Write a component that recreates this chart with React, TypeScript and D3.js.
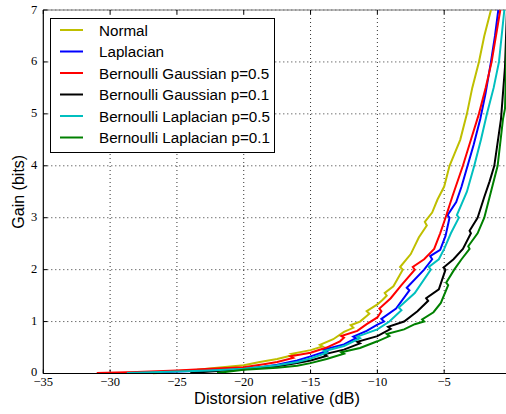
import React from "react";
import * as d3 from "d3";

const xTicks = [-35, -30, -25, -20, -15, -10, -5];
const yTicks = [0, 1, 2, 3, 4, 5, 6, 7];

const seriesNames = [
  "Normal",
  "Laplacian",
  "Bernoulli Gaussian p=0.5",
  "Bernoulli Gaussian p=0.1",
  "Bernoulli Laplacian p=0.5",
  "Bernoulli Laplacian p=0.1",
];
const seriesColors = ["#bfbf00", "#0000ff", "#ff0000", "#000000", "#00bfbf", "#008000"];

const normalDb = [-26.8, -25.0, -23.5, -22.0, -20.0, -18.8, -17.5, -16.2, -16.4, -15.0, -14.1, -14.3, -13.3, -12.5, -11.8, -12.0, -11.3, -10.6, -10.8, -10.0, -9.6, -9.3, -9.45, -8.8, -8.1, -8.3, -7.5, -6.9, -6.3, -6.45, -5.9, -5.5, -5.0, -4.6, -4.2, -3.8, -3.3, -2.9, -2.4, -2.0, -1.5];
const normalGain = [0.0, 0.05, 0.07, 0.11, 0.16, 0.22, 0.28, 0.36, 0.38, 0.45, 0.52, 0.55, 0.66, 0.8, 0.88, 0.93, 1.0, 1.15, 1.2, 1.33, 1.42, 1.5, 1.55, 1.68, 2.0, 2.05, 2.3, 2.62, 2.85, 2.92, 3.1, 3.35, 3.6, 4.0, 4.25, 4.5, 5.0, 5.5, 6.0, 6.5, 7.0];

const laplaceDb = [-28.0, -25.0, -22.5, -20.0, -18.5, -17.5, -16.0, -15.0, -13.8, -14.0, -12.5, -11.6, -11.8, -10.8, -10.0, -9.5, -9.7, -8.6, -7.6, -7.8, -6.5, -5.9, -6.05, -5.3, -4.9, -4.6, -4.75, -4.1, -3.7, -3.25, -2.8, -2.3, -1.9, -1.5, -1.2, -0.95];
const laplaceGain = [0.01, 0.04, 0.06, 0.09, 0.13, 0.17, 0.25, 0.33, 0.43, 0.46, 0.56, 0.68, 0.71, 0.82, 0.94, 1.0, 1.05, 1.25, 1.6, 1.65, 2.0, 2.2, 2.26, 2.38, 2.65, 3.0, 3.05, 3.3, 3.6, 4.0, 4.4, 4.9, 5.4, 6.0, 6.5, 7.0];

const bg05Db = [-31.0, -28.0, -25.0, -22.5, -20.0, -18.5, -17.5, -16.3, -16.5, -15.0, -13.8, -12.8, -12.5, -12.7, -11.5, -10.8, -10.0, -9.7, -9.85, -9.0, -8.2, -7.2, -7.35, -6.5, -5.75, -5.3, -4.9, -4.4, -3.6, -3.0, -2.4, -1.9, -1.45, -0.8];
const bg05Gain = [0.01, 0.03, 0.06, 0.09, 0.12, 0.18, 0.22, 0.3, 0.33, 0.4, 0.5, 0.62, 0.69, 0.72, 0.82, 0.95, 1.08, 1.2, 1.25, 1.45, 1.7, 2.0, 2.05, 2.2, 2.4, 2.7, 3.0, 3.4, 4.0, 4.5, 5.0, 5.5, 6.0, 7.0];

const bg01Db = [-24.0, -22.5, -20.0, -17.5, -16.0, -15.0, -13.8, -14.0, -12.5, -11.3, -11.5, -10.0, -9.0, -9.2, -8.0, -7.0, -6.2, -6.35, -5.4, -4.9, -5.05, -4.3, -3.6, -3.0, -3.1, -2.5, -2.0, -1.6, -1.25, -0.75, -0.45, -0.3];
const bg01Gain = [0.01, 0.04, 0.08, 0.14, 0.2, 0.25, 0.34, 0.37, 0.46, 0.58, 0.61, 0.72, 0.86, 0.9, 1.0, 1.2, 1.4, 1.45, 1.62, 2.0, 2.04, 2.2, 2.4, 2.7, 2.75, 3.0, 3.4, 3.7, 4.0, 4.9, 5.9, 7.0];

const bl05Db = [-28.75, -25.0, -22.5, -20.0, -17.5, -16.0, -15.0, -13.8, -14.0, -12.5, -11.3, -11.5, -10.0, -9.1, -8.2, -8.4, -7.2, -6.0, -6.15, -5.4, -5.0, -4.5, -3.9, -4.05, -3.3, -2.75, -2.25, -1.8, -1.3, -0.9, -0.5];
const bl05Gain = [0.01, 0.04, 0.06, 0.09, 0.16, 0.22, 0.29, 0.4, 0.43, 0.53, 0.68, 0.71, 0.85, 1.0, 1.22, 1.27, 1.55, 2.0, 2.05, 2.2, 2.4, 2.7, 3.0, 3.05, 3.5, 4.0, 4.5, 5.0, 5.5, 6.0, 7.0];

const bl01Db = [-22.0, -20.0, -17.5, -16.0, -15.0, -13.8, -12.5, -12.7, -11.3, -10.0, -9.1, -9.3, -8.0, -7.2, -6.5, -6.65, -5.8, -5.25, -4.7, -4.85, -4.25, -3.7, -3.1, -3.2, -2.5, -2.0, -1.5, -1.0, -0.6, -0.45, -0.25];
const bl01Gain = [0.01, 0.07, 0.11, 0.15, 0.2, 0.28, 0.38, 0.41, 0.49, 0.62, 0.72, 0.76, 0.85, 0.95, 1.0, 1.04, 1.18, 1.36, 1.7, 1.75, 2.0, 2.2, 2.4, 2.45, 2.7, 3.0, 3.5, 4.0, 4.9, 5.1, 7.0];

const seriesDb = [normalDb, laplaceDb, bg05Db, bg01Db, bl05Db, bl01Db];
const seriesGain = [normalGain, laplaceGain, bg05Gain, bg01Gain, bl05Gain, bl01Gain];

const W = 506;
const H = 414;
const left = 43.3;
const right = 511;
const top = 10;
const bottom = 373.5;

export default function App() {
  const x = d3.scaleLinear().domain([-35, 0]).range([left, right]);
  const y = d3.scaleLinear().domain([0, 7]).range([bottom, top]);
  const line = d3
    .line<[number, number]>()
    .x((d) => x(d[0]))
    .y((d) => y(d[1]));

  const tickFont = "'Liberation Serif', 'DejaVu Serif', serif";
  const sansFont = "'Liberation Sans', Arial, sans-serif";

  return (
    <svg width={W} height={H} style={{ position: "absolute", left: 0, top: 0, background: "#fff" }}>
      <defs>
        <clipPath id="plotclip">
          <rect x={left} y={top - 1} width={right - left} height={bottom - top + 2} />
        </clipPath>
      </defs>
      <rect x={0} y={0} width={W} height={H} fill="#fff" />
      {xTicks.slice(1).map((t) => (
        <line key={"gx" + t} x1={x(t)} x2={x(t)} y1={top} y2={bottom} stroke="#000" strokeWidth={1} strokeDasharray="1,3" opacity={0.8} />
      ))}
      {yTicks.slice(1).map((t) => (
        <line key={"gy" + t} x1={left} x2={right} y1={y(t)} y2={y(t)} stroke="#000" strokeWidth={1} strokeDasharray="1,3" opacity={0.8} />
      ))}
      <line x1={left} x2={right} y1={top} y2={top} stroke="#777" strokeWidth={1} />
      {xTicks.map((t) => (
        <g key={"tx" + t}>
          <line x1={x(t)} x2={x(t)} y1={bottom} y2={bottom - 4} stroke="#000" />
          <line x1={x(t)} x2={x(t)} y1={top} y2={top + 4} stroke="#000" />
          <text x={x(t)} y={bottom + 12.5} textAnchor="middle" fontFamily={tickFont} fontSize={12.5} fill="#000">
            {"\u2212" + Math.abs(t)}
          </text>
        </g>
      ))}
      {yTicks.map((t) => (
        <g key={"ty" + t}>
          <line x1={left} x2={left + 4} y1={y(t)} y2={y(t)} stroke="#000" />
          <text x={left - 6} y={y(t) + (t === 0 ? 2.5 : 3.5)} textAnchor="end" fontFamily={tickFont} fontSize={12.5} fill="#000">
            {t}
          </text>
        </g>
      ))}
      <g clipPath="url(#plotclip)">
        {seriesDb.map((dbs, i) => {
          const pts: [number, number][] = dbs.map((d, j) => [d, seriesGain[i][j]]);
          return (
            <path key={"s" + i} d={line(pts) || ""} fill="none" stroke={seriesColors[i]} strokeWidth={2} strokeLinejoin="miter" />
          );
        })}
      </g>
      <line x1={left} x2={left} y1={top} y2={bottom} stroke="#000" strokeWidth={1.2} />
      <line x1={left} x2={right} y1={bottom} y2={bottom} stroke="#000" strokeWidth={1.2} />
      <rect x={50.5} y={18.5} width={224} height={134} fill="#fff" stroke="#000" strokeWidth={1} />
      {seriesNames.map((n, i) => {
        const yy = 30 + i * 21.5;
        return (
          <g key={"lg" + i}>
            <line x1={60} x2={83} y1={yy} y2={yy} stroke={seriesColors[i]} strokeWidth={2} />
            <text x={99} y={yy + 5.5} fontFamily={sansFont} fontSize={15.2} fill="#000">
              {n}
            </text>
          </g>
        );
      })}
      <text x={277} y={404} textAnchor="middle" fontFamily={sansFont} fontSize={16.4} fill="#000">
        Distorsion relative (dB)
      </text>
      <text transform={`translate(24,${(top + bottom) / 2}) rotate(-90)`} textAnchor="middle" fontFamily={sansFont} fontSize={16} fill="#000">
        Gain (bits)
      </text>
    </svg>
  );
}
